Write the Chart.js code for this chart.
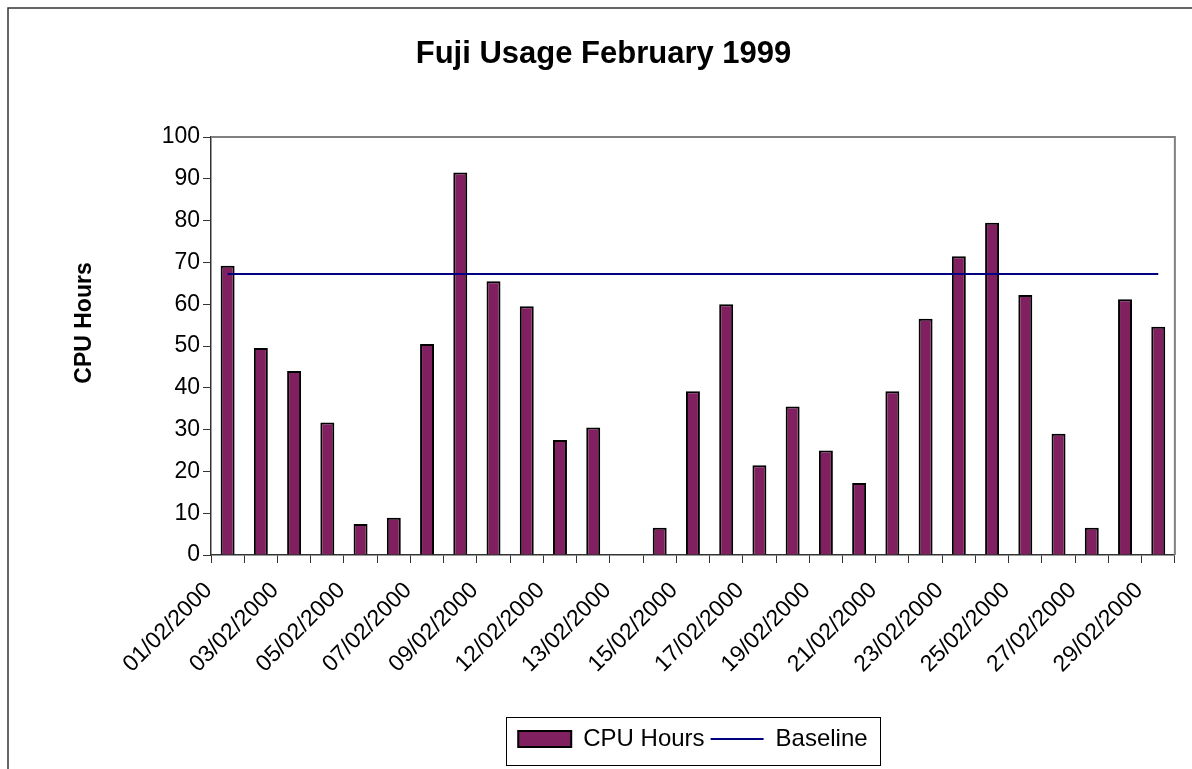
<!DOCTYPE html>
<html>
<head>
<meta charset="utf-8">
<title>Fuji Usage February 1999</title>
<script src="https://cdn.jsdelivr.net/npm/chart.js@4.4.1/dist/chart.umd.min.js"></script>
<style>
  html, body { margin: 0; padding: 0; background: #fff; }
  #wrap { width: 1192px; height: 769px; }
</style>
</head>
<body>
<div id="wrap"><canvas id="fujiChart" width="1192" height="769"></canvas></div>
<script>
const dias = [
  '01/02/2000', '02/02/2000', '03/02/2000', '04/02/2000', '05/02/2000', '06/02/2000',
  '07/02/2000', '08/02/2000', '09/02/2000', '11/02/2000', '12/02/2000', '12/02/2000',
  '13/02/2000', '14/02/2000', '15/02/2000', '16/02/2000', '17/02/2000', '18/02/2000',
  '19/02/2000', '20/02/2000', '21/02/2000', '22/02/2000', '23/02/2000', '24/02/2000',
  '25/02/2000', '26/02/2000', '27/02/2000', '28/02/2000', '29/02/2000'
];
const horasCpu = [
  69.2, 49.5, 44, 31.7, 7.4, 8.9, 50.5, 91.5, 65.5, 59.5,
  27.5, 30.5, 0, 6.5, 39.2, 60, 21.5, 35.5, 25, 17.2,
  39.2, 56.5, 71.5, 79.5, 62.2, 29, 6.5, 61.2, 54.6
];
const baseline = [
  67.2, 67.2, 67.2, 67.2, 67.2, 67.2, 67.2, 67.2, 67.2, 67.2,
  67.2, 67.2, 67.2, 67.2, 67.2, 67.2, 67.2, 67.2, 67.2, 67.2,
  67.2, 67.2, 67.2, 67.2, 67.2, 67.2, 67.2, 67.2, 67.2
];

const FONTE = "'Liberation Sans', Arial, sans-serif";
Chart.defaults.font.family = FONTE;
Chart.defaults.color = '#000';

// moldura, borda da área do gráfico, título do eixo y e caixa da legenda
const molduraPlugin = {
  id: 'moldura',
  beforeDraw(chart) {
    const ctx = chart.ctx;
    ctx.save();
    ctx.fillStyle = '#fff';
    ctx.fillRect(0, 0, chart.width, chart.height);
    ctx.strokeStyle = '#333';
    ctx.lineWidth = 1.5;
    ctx.beginPath();
    ctx.moveTo(8, chart.height);
    ctx.lineTo(8, 8);
    ctx.lineTo(chart.width, 8);
    ctx.stroke();
    ctx.restore();
  },
  beforeDatasetsDraw(chart) {
    const { ctx, chartArea: a } = chart;
    ctx.save();
    ctx.strokeStyle = '#808080';
    ctx.lineWidth = 2;
    ctx.beginPath();
    ctx.moveTo(a.left, a.top);
    ctx.lineTo(a.right, a.top);
    ctx.lineTo(a.right, a.bottom);
    ctx.stroke();
    ctx.restore();
  },
  afterDraw(chart) {
    const ctx = chart.ctx;
    ctx.save();
    ctx.translate(85, 323);
    ctx.rotate(-Math.PI / 2);
    ctx.font = 'bold 23px ' + FONTE;
    ctx.fillStyle = '#000';
    ctx.textAlign = 'center';
    ctx.textBaseline = 'middle';
    ctx.fillText('CPU Hours', 0, 0);
    ctx.restore();

    const caixas = chart.legend.legendHitBoxes;
    if (!caixas || !caixas.length) return;
    let esq = Infinity, dir = -Infinity, topo = Infinity, baixo = -Infinity;
    caixas.forEach(c => {
      esq = Math.min(esq, c.left);
      dir = Math.max(dir, c.left + c.width);
      topo = Math.min(topo, c.top);
      baixo = Math.max(baixo, c.top + c.height);
    });
    ctx.save();
    ctx.strokeStyle = '#000';
    ctx.lineWidth = 1;
    ctx.strokeRect(Math.round(esq - 12) + 0.5, Math.round(topo - 10) + 0.5,
      Math.round(dir - esq + 25), Math.round(baixo - topo + 24));
    ctx.restore();
  }
};

const ctx = document.getElementById('fujiChart').getContext('2d');
new Chart(ctx, {
  type: 'bar',
  data: {
    labels: dias,
    datasets: [
      {
        type: 'bar',
        label: 'CPU Hours',
        data: horasCpu,
        backgroundColor: '#802060',
        borderColor: '#000',
        borderWidth: 2,
        categoryPercentage: 1,
        barPercentage: 0.42,
        pointStyle: 'rect',
        order: 2
      },
      {
        type: 'line',
        label: 'Baseline',
        data: baseline,
        borderColor: '#000080',
        borderWidth: 2,
        pointRadius: 0,
        pointStyle: 'line',
        fill: false,
        order: 1
      }
    ]
  },
  options: {
    responsive: false,
    animation: false,
    layout: { padding: { top: 10, right: 13, bottom: 8, left: 28 } },
    plugins: {
      title: {
        display: true,
        text: 'Fuji Usage February 1999',
        color: '#000',
        font: { size: 31, weight: 'bold' },
        padding: { top: 26, bottom: 63.8 }
      },
      legend: {
        position: 'bottom',
        fullSize: false,
        labels: {
          usePointStyle: true,
          pointStyleWidth: 53,
          boxHeight: 16,
          color: '#000',
          font: { size: 24 },
          padding: 6,
          sort: (a, b) => a.datasetIndex - b.datasetIndex
        }
      },
      tooltip: { enabled: false }
    },
    scales: {
      x: {
        grid: { offset: true, drawOnChartArea: false, tickLength: 8, tickColor: '#333' },
        border: { color: '#333', width: 1.5 },
        ticks: {
          autoSkip: false,
          maxRotation: 45,
          minRotation: 45,
          color: '#000',
          font: { size: 23 },
          labelOffset: -19,
          padding: 14,
          callback: function (v, i) { return i % 2 === 0 ? this.getLabelForValue(v) : ''; }
        },
        afterFit(s) { s.height = 166; }
      },
      y: {
        min: 0,
        max: 100,
        ticks: { stepSize: 10, color: '#000', font: { size: 23 }, padding: 3 },
        grid: { drawOnChartArea: false, tickLength: 8, tickColor: '#333' },
        border: { color: '#333', width: 1.5 },
        afterFit(s) { s.width = 183; }
      }
    }
  },
  plugins: [molduraPlugin]
});
</script>
</body>
</html>
